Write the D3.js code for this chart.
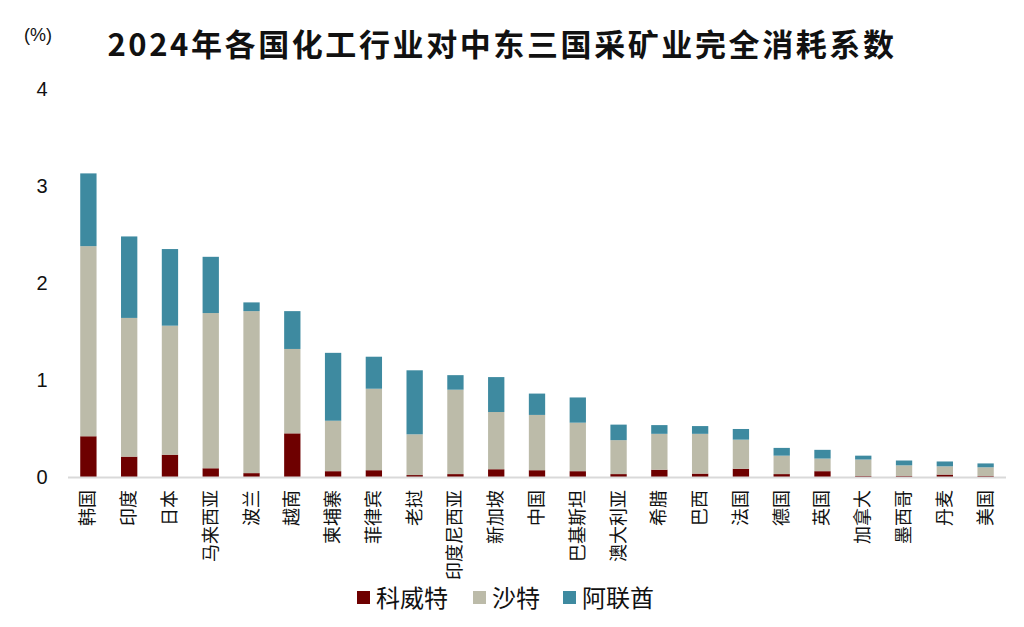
<!DOCTYPE html>
<html>
<head>
<meta charset="utf-8">
<script src="https://cdn.jsdelivr.net/npm/d3@7"></script>
<style>
  body { margin: 0; background: #fff; }
  svg text { font-family: "Liberation Sans", "Noto Sans CJK SC", sans-serif; }
</style>
</head>
<body>
<svg id="chart" width="1024" height="627"></svg>
<script>
const countries = ['韩国', '印度', '日本', '马来西亚', '波兰', '越南', '柬埔寨', '菲律宾', '老挝', '印度尼西亚', '新加坡', '中国',
    '巴基斯坦', '澳大利亚', '希腊', '巴西', '法国', '德国', '英国', '加拿大', '墨西哥', '丹麦', '美国']

const kuwait = [0.42, 0.21, 0.23, 0.09, 0.04, 0.45, 0.06, 0.07, 0.02, 0.03, 0.08, 0.07,
    0.06, 0.03, 0.075, 0.035, 0.085, 0.03, 0.06, 0.01, 0.01, 0.025, 0.01]
const saudi = [1.96, 1.43, 1.33, 1.60, 1.67, 0.87, 0.52, 0.84, 0.42, 0.87, 0.59, 0.57,
    0.50, 0.35, 0.37, 0.41, 0.30, 0.19, 0.13, 0.17, 0.11, 0.085, 0.09]
const uae = [0.75, 0.84, 0.79, 0.58, 0.09, 0.39, 0.70, 0.33, 0.66, 0.15, 0.36, 0.22,
    0.26, 0.16, 0.09, 0.08, 0.11, 0.08, 0.09, 0.04, 0.05, 0.05, 0.04]

const series_names = ['科威特', '沙特', '阿联酋']
const series_cols = ['#6e0000', '#bcbba9', '#3e8aa0']
const y_ticks = [0, 1, 2, 3, 4]

var svg = d3.select('#chart')

var x = d3.scaleBand()
    .domain(countries)
    .range([68, 1006])
    .paddingInner(0.6)
    .paddingOuter(0.3)

var y = d3.scaleLinear()
    .domain([0, 4])
    .range([477, 89])

// stack the three series
var rows = countries.map((c, i) => ({ name: c, k: kuwait[i], s: saudi[i], u: uae[i] }))
var stacked = d3.stack().keys(['k', 's', 'u'])(rows)

svg.append('g').selectAll('g')
    .data(stacked).enter()
    .append('g')
    .attr('fill', (d, i) => series_cols[i])
    .selectAll('rect')
    .data((d) => d).enter()
    .append('rect')
    .attr('x', (d) => x(d.data.name))
    .attr('y', (d) => y(d[1]))
    .attr('width', x.bandwidth())
    .attr('height', (d) => y(d[0]) - y(d[1]))

// baseline
svg.append('line')
    .attr('x1', 68).attr('x2', 1006)
    .attr('y1', y(0) + 0.5).attr('y2', y(0) + 0.5)
    .attr('stroke', '#d9d9d9')
    .attr('stroke-width', 2)

// y tick labels
svg.append('g').selectAll('text')
    .data(y_ticks).enter()
    .append('text')
    .attr('x', 42)
    .attr('y', (d) => y(d))
    .attr('dy', '0.36em')
    .attr('text-anchor', 'middle')
    .style('font-size', '20px')
    .attr('fill', '#111')
    .text((d) => d)

// x labels, vertical
svg.append('g').selectAll('text')
    .data(countries).enter()
    .append('text')
    .attr('transform', (d) => `translate(${x(d) + x.bandwidth() / 2 + 6}, 490) rotate(-90)`)
    .attr('text-anchor', 'end')
    .style('font-family', '"Noto Sans CJK SC", sans-serif')
    .style('font-size', '18px')
    .attr('fill', '#111')
    .text((d) => d)

svg.append('text')
    .attr('x', 38).attr('y', 41)
    .attr('text-anchor', 'middle')
    .style('font-size', '18px')
    .attr('fill', '#111')
    .text('(%)')

svg.append('text')
    .attr('x', 502).attr('y', 56)
    .attr('text-anchor', 'middle')
    .style('font-family', '"Noto Sans CJK SC", sans-serif')
    .style('font-size', '31px')
    .style('font-weight', 'bold')
    .style('letter-spacing', '2.6px')
    .attr('fill', '#111')
    .text('2024年各国化工行业对中东三国采矿业完全消耗系数')

// legend
const leg_x = [357, 473, 563]
var leg = svg.append('g').selectAll('g')
    .data(series_names).enter()
    .append('g')
    .attr('transform', (d, i) => `translate(${leg_x[i]}, 598)`)

leg.append('rect')
    .attr('x', 0).attr('y', -7)
    .attr('width', 13).attr('height', 13)
    .attr('fill', (d, i) => series_cols[i])

leg.append('text')
    .attr('x', 19).attr('y', 0)
    .attr('dy', '0.36em')
    .style('font-family', '"Noto Sans CJK SC", sans-serif')
    .style('font-size', '24px')
    .attr('fill', '#111')
    .text((d) => d)
</script>
</body>
</html>
